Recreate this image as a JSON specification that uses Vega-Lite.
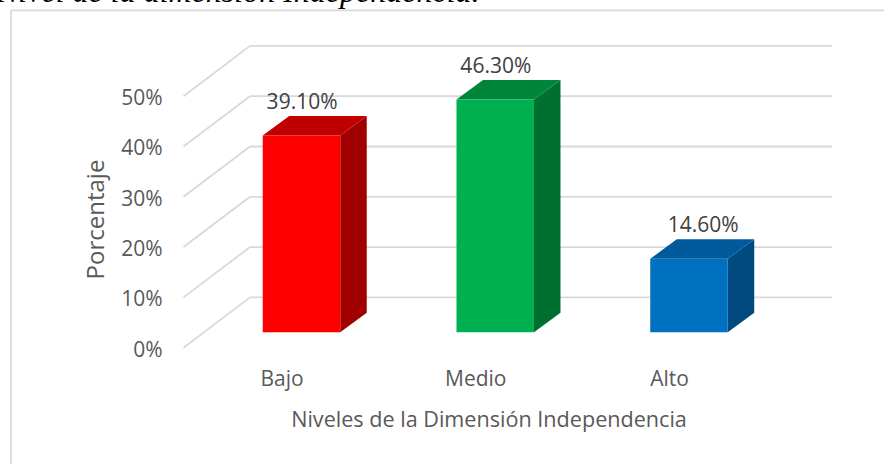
{
"$schema":"https://vega.github.io/schema/vega-lite/v6.json",
"width":884,"height":464,"autosize":"none","padding":0,"background":"white",
"title":{"text":"Nivel de la dimensión Independencia.","anchor":"start","frame":"group","baseline":"alphabetic","offset":-34,"dx":-3,"font":"Liberation Serif","fontStyle":"italic","fontWeight":"normal","fontSize":32,"color":"#000000"},
"config":{"view":{"stroke":null},"axis":{"domain":false,"ticks":false,"grid":false,"labelFont":"Open Sans","titleFont":"Open Sans","labelFontSize":21,"titleFontSize":21.6,"labelColor":"#595959","titleColor":"#595959","titleFontWeight":"normal"}},
"data":{"values":[{"nivel":"Bajo","orden":1,"porcentaje":39.1},{"nivel":"Medio","orden":2,"porcentaje":46.3},{"nivel":"Alto","orden":3,"porcentaje":14.6}]},
"transform":[
{"calculate":"datum.orden+0.1032-0.2","as":"xl"},
{"calculate":"datum.orden+0.1032+0.2","as":"xr"},
{"calculate":"3.06","as":"base"},
{"calculate":"3.06+datum.porcentaje","as":"top"}
],
"layer":[
{"data":{"values":[{"tick":0},{"tick":10},{"tick":20},{"tick":30},{"tick":40},{"tick":50}]},
 "transform":[{"calculate":"datum.tick+10","as":"back"}],
 "mark":{"type":"rule","stroke":"#d9d9d9","strokeWidth":1.8},
 "encoding":{
  "x":{"datum":0.8374,"type":"quantitative","scale":{"domain":[-0.4529,4.1097],"nice":false,"zero":false},"axis":{"title":"Niveles de la Dimensión Independencia","values":[1,2,3],"labelExpr":"datum.value==1?'Bajo':datum.value==2?'Medio':'Alto'","offset":-85,"labelPadding":0,"labelBaseline":"middle","titleX":488.5,"titleY":41,"titleBaseline":"middle","titleAlign":"center"}},
  "x2":{"datum":3.8413},
  "y":{"field":"back","type":"quantitative","scale":{"domain":[-23.12,69.12],"nice":false,"zero":false},"axis":{"title":"Porcentaje","titleFontSize":24,"values":[0,10,20,30,40,50],"labelExpr":"datum.value+'%'","offset":-162,"labelPadding":0,"labelOffset":2.5,"titleX":-66,"titleY":219,"titleBaseline":"middle","titleAlign":"center","titleAngle":-90}}}},
{"data":{"values":[{"tick":0},{"tick":10},{"tick":20},{"tick":30},{"tick":40},{"tick":50}]},
 "transform":[{"calculate":"datum.tick+10","as":"back"}],
 "mark":{"type":"rule","stroke":"#d9d9d9","strokeWidth":1.8},
 "encoding":{"x":{"datum":0.4942,"type":"quantitative","axis":null},"x2":{"datum":0.8374},"y":{"field":"tick","type":"quantitative","axis":null},"y2":{"field":"back"}}},
{"data":{"values":[{"borde":"izquierda"}]},
 "mark":{"type":"rule","stroke":"#d9d9d9","strokeWidth":1.8},
 "encoding":{"x":{"datum":-0.3961,"type":"quantitative","axis":null},"y":{"datum":67.04,"type":"quantitative","axis":null},"y2":{"datum":-23.12}}},
{"data":{"values":[{"borde":"arriba"}]},
 "mark":{"type":"rule","stroke":"#d9d9d9","strokeWidth":1.8},
 "encoding":{"x":{"datum":-0.3961,"type":"quantitative","axis":null},"x2":{"datum":4.1097},"y":{"datum":67.04,"type":"quantitative","axis":null}}},
{"transform":[{"calculate":"[0,1]","as":"t"},{"flatten":["t"]},{"calculate":"datum.xr+datum.t*0.1368","as":"sx"},{"calculate":"datum.base+datum.t*3.88","as":"sy"},{"calculate":"datum.top+datum.t*3.88","as":"sy2"}],
 "mark":{"type":"area","opacity":1},
 "encoding":{"x":{"field":"sx","type":"quantitative","axis":null},"y":{"field":"sy","type":"quantitative","axis":null},"y2":{"field":"sy2"},
  "color":{"field":"nivel","type":"nominal","legend":null,"scale":{"domain":["Bajo","Medio","Alto"],"range":["#a00000","#007030","#004a80"]}}}},
{"transform":[{"calculate":"[0,1]","as":"t"},{"flatten":["t"]},{"calculate":"datum.xl+datum.t*0.1368","as":"tx"},{"calculate":"datum.xr+datum.t*0.1368","as":"tx2"},{"calculate":"datum.top+datum.t*3.88","as":"ty"}],
 "mark":{"type":"area","orient":"horizontal","opacity":1},
 "encoding":{"y":{"field":"ty","type":"quantitative","axis":null},"x":{"field":"tx","type":"quantitative","axis":null},"x2":{"field":"tx2"},
  "color":{"field":"nivel","type":"nominal","legend":null,"scale":{"domain":["Bajo","Medio","Alto"],"range":["#c00000","#00863b","#005a9c"]}}}},
{"mark":{"type":"rect"},
 "encoding":{
  "x":{"field":"xl","type":"quantitative","axis":null},
  "x2":{"field":"xr"},
  "y":{"field":"base","type":"quantitative","axis":null},
  "y2":{"field":"top"},
  "color":{"field":"nivel","type":"nominal","legend":null,"scale":{"domain":["Bajo","Medio","Alto"],"range":["#ff0000","#00b050","#0070c0"]}}}},
{"transform":[{"calculate":"format(datum.porcentaje,'.2f')+'%'","as":"etiqueta"},{"calculate":"datum.orden+0.1032+(datum.orden==3?0.0735:0.003)","as":"lx"},{"calculate":"datum.porcentaje+9.55","as":"ly"}],
 "mark":{"type":"text","font":"Open Sans","fontSize":21,"color":"#404040","baseline":"middle","align":"center"},
 "encoding":{"x":{"field":"lx","type":"quantitative","axis":null},"y":{"field":"ly","type":"quantitative","axis":null},"text":{"field":"etiqueta"}}}
],
"resolve":{"scale":{"color":"independent"},"axis":{"x":"independent","y":"independent"}}
}
